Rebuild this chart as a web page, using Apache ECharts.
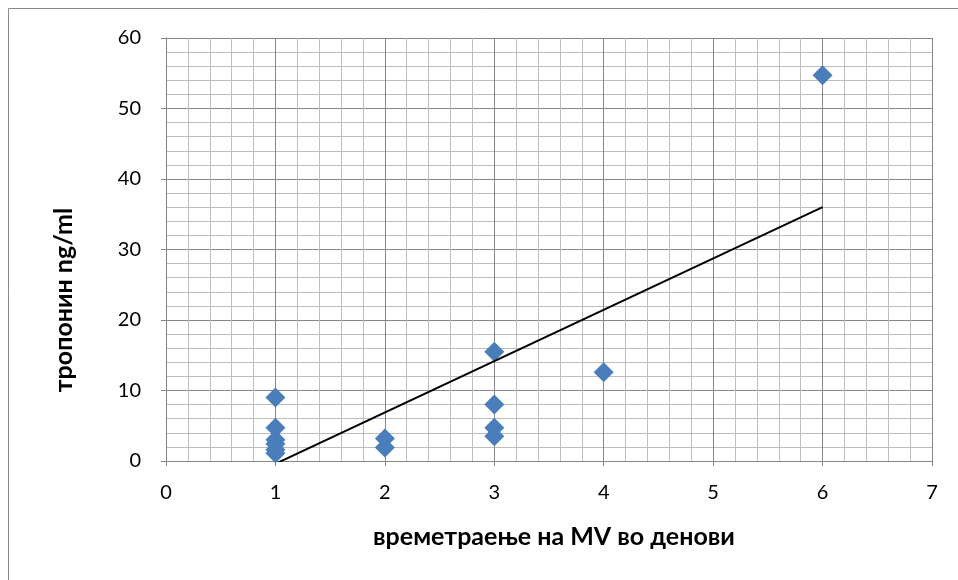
<!DOCTYPE html>
<html>
<head>
<meta charset="utf-8">
<script src="https://cdn.jsdelivr.net/npm/echarts@6/dist/echarts.min.js"></script>
<style>
  html, body { margin: 0; padding: 0; background: #ffffff; }
  #chart { width: 958px; height: 580px; }
</style>
</head>
<body>
<div id="chart"></div>
<script>
// Duration of mechanical ventilation (days) and troponin level (ng/ml)
const days     = [1, 1, 1, 1, 1, 1, 2, 2, 3, 3, 3, 3, 4, 6];
const troponin = [9.0, 4.7, 3.0, 2.4, 1.6, 1.1, 3.2, 1.9, 15.5, 8.0, 4.7, 3.5, 12.6, 54.7];

// Linear trend line end points
const trendDays     = [1, 6];
const trendTroponin = [-0.4, 36.0];

// Axis tick values
const xTicks = [0, 1, 2, 3, 4, 5, 6, 7];
const yTicks = [0, 10, 20, 30, 40, 50, 60];

const FONT = "Lato, 'Noto Sans', sans-serif";
const MAJOR = '#868686';
const MINOR = '#bdbdbd';

const points = days.map((d, i) => [d, troponin[i]]);
const trend = trendDays.map((d, i) => [d, trendTroponin[i]]);

const chart = echarts.init(document.getElementById('chart'), null, { renderer: 'canvas' });

function axisCommon(ticks) {
  return {
    type: 'value',
    min: ticks[0],
    max: ticks[ticks.length - 1],
    interval: ticks[1] - ticks[0],
    axisLine: { show: true, lineStyle: { color: MAJOR, width: 1 } },
    axisTick: { show: true, inside: false, length: 5, lineStyle: { color: MAJOR } },
    splitLine: { show: true, lineStyle: { color: MAJOR, width: 1 } },
    minorTick: { show: false, splitNumber: 5 },
    minorSplitLine: { show: true, lineStyle: { color: MINOR, width: 1 } },
    axisLabel: { color: '#000', fontFamily: FONT, fontSize: 20 }
  };
}

const xAxis = axisCommon(xTicks);
xAxis.axisLabel.margin = 22;
const yAxis = axisCommon(yTicks);
yAxis.axisLabel.margin = 25;

chart.setOption({
  backgroundColor: '#ffffff',
  animation: false,
  grid: { left: 166, right: 26, top: 38, bottom: 119, containLabel: false },
  xAxis: xAxis,
  yAxis: yAxis,
  graphic: [
    {
      type: 'rect',
      shape: { x: 8.5, y: 8.5, width: 1000, height: 1000 },
      style: { fill: 'none', stroke: '#8a8a8a', lineWidth: 1 },
      silent: true
    },
    {
      type: 'text',
      x: 554, y: 537,
      style: {
        text: 'времетраење на MV во денови',
        fontFamily: FONT, fontSize: 25, fontWeight: 'bold', fill: '#000',
        align: 'center', verticalAlign: 'middle'
      }
    },
    {
      type: 'text',
      x: 64, y: 300,
      rotation: Math.PI / 2,
      style: {
        text: 'тропонин ng/ml',
        fontFamily: FONT, fontSize: 25, fontWeight: 'bold', fill: '#000',
        align: 'center', verticalAlign: 'middle'
      }
    }
  ],
  series: [
    {
      type: 'scatter',
      data: points,
      symbol: 'diamond',
      symbolSize: 20,
      itemStyle: { color: '#4a7ebb', opacity: 1 },
      z: 3
    },
    {
      type: 'line',
      data: trend,
      symbol: 'none',
      clip: true,
      lineStyle: { color: '#000000', width: 2 },
      z: 4
    }
  ]
});
</script>
</body>
</html>
